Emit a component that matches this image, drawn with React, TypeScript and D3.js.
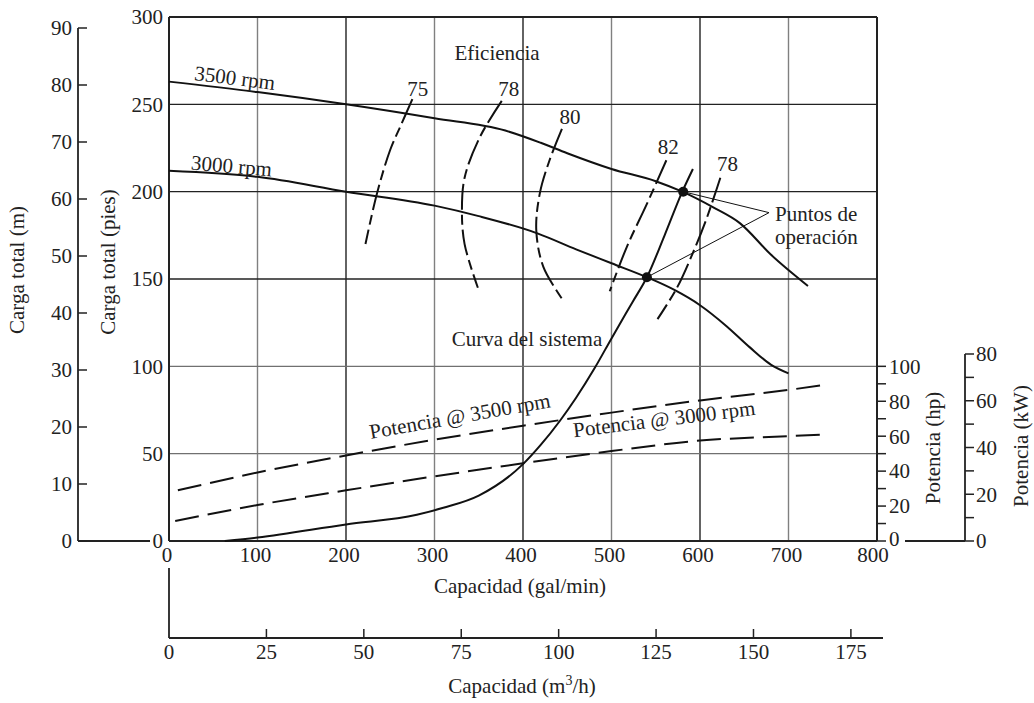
import React from "react";
import * as d3 from "d3";

// ---------- data (gal/min, ft / hp) ----------
const ftTicks = [0, 50, 100, 150, 200, 250, 300];
const mTicks = [0, 10, 20, 30, 40, 50, 60, 70, 80, 90];
const gpmTicks = [0, 100, 200, 300, 400, 500, 600, 700, 800];
const m3hTicks = [0, 25, 50, 75, 100, 125, 150, 175];
const hpTicks = [0, 10, 20, 30, 40, 50, 60, 70, 80, 90, 100];
const kwTicks = [0, 10, 20, 30, 40, 50, 60, 70, 80];

const pump3500: [number, number][] = [
  [0, 263], [100, 257], [200, 250], [300, 242], [380, 235], [420, 228],
  [450, 222], [500, 213], [550, 206], [580, 200], [615, 191], [645, 182],
  [680, 164], [722, 146],
];
const pump3000: [number, number][] = [
  [0, 212], [100, 208.5], [200, 200], [300, 192], [350, 186], [417, 176],
  [460, 167], [500, 159], [540, 151], [570, 144], [600, 135], [630, 123],
  [656, 111], [680, 101], [700, 96],
];
const systemCurve: [number, number][] = [
  [63, 0], [100, 2], [200, 9.5], [280, 15], [310, 19], [350, 26], [400, 44],
  [420, 55], [442, 69], [460, 82], [481, 99], [500, 116], [524, 137],
  [540, 151], [560, 175], [580, 200], [592, 213],
];
const power3500: [number, number][] = [
  [10, 29], [100, 39.2], [200, 49], [300, 58], [400, 66], [500, 73.5],
  [600, 80.5], [700, 86.5], [743, 89.5],
];
const power3000: [number, number][] = [
  [7, 11.5], [100, 20.6], [200, 29], [300, 37], [400, 44.5], [500, 51.5],
  [600, 57.5], [700, 60], [742, 61],
];
const eff75: [number, number][] = [[275, 253], [262, 238], [250, 224], [235, 199], [222, 170]];
const eff78a: [number, number][] = [[376, 252], [351, 231], [334, 208], [331, 189], [334, 170], [349, 145]];
const eff80: [number, number][] = [[444, 236], [430, 218], [419, 199], [415, 178], [423, 157], [445, 138]];
const eff82: [number, number][] = [[562, 218], [540, 193], [517, 168], [498, 143]];
const eff78b: [number, number][] = [[623, 208], [607, 184], [592, 165], [574, 145], [552, 127]];
const effCurves = [eff75, eff78a, eff80, eff82, eff78b];
const effLabels = ["75", "78", "80", "82", "78"];
const effLabelPos: [number, number][] = [[281, 259], [384, 259], [453, 243], [564, 226], [631, 216]];
const operatingPoints: [number, number][] = [[581, 200], [540, 151]];
const leaderTarget: [number, number] = [678, 188];

const FONT = "'Liberation Serif', 'Times New Roman', serif";

export default function App() {
  const W = 1034, H = 703;
  const x = d3.scaleLinear().domain([0, 800]).range([169, 877]);
  const y = d3.scaleLinear().domain([0, 300]).range([541, 17]);
  const yM = d3.scaleLinear().domain([0, 90]).range([541, 28]);
  const yHp = d3.scaleLinear().domain([0, 100]).range([y(0), y(100)]);
  const yKw = d3.scaleLinear().domain([0, 80]).range([541, 354]);
  const xM3 = d3.scaleLinear().domain([0, 175]).range([x(0), x(175 * 4.4029)]);

  const smooth = d3.line<[number, number]>().x(d => x(d[0])).y(d => y(d[1])).curve(d3.curveMonotoneX);
  const smoothHp = d3.line<[number, number]>().x(d => x(d[0])).y(d => yHp(d[1])).curve(d3.curveMonotoneX);
  const effLine = d3.line<[number, number]>().x(d => x(d[0])).y(d => y(d[1])).curve(d3.curveCatmullRom);

  const text = { fontFamily: FONT, fontSize: 21, fill: "#222" } as React.CSSProperties;
  const mAxisX = 78;
  const hpAxisX = x(800);
  const kwAxisX = 965;
  const m3AxisY = 638;

  return (
    <svg width={W} height={H} style={{ position: "absolute", left: 0, top: 0, background: "#fff" }}>
      <rect width={W} height={H} fill="#fff" />
      {/* grid */}
      {gpmTicks.slice(1, -1).map(v => (
        <line key={"gx" + v} x1={x(v)} x2={x(v)} y1={y(300)} y2={y(0)}
          stroke={v % 200 === 0 ? "#222" : "#808080"} strokeWidth={1.4} />
      ))}
      {ftTicks.slice(1, -1).map(v => (
        <line key={"gy" + v} x1={x(0)} x2={x(800)} y1={y(v)} y2={y(v)}
          stroke={v >= 150 ? "#222" : "#707070"} strokeWidth={1.4} />
      ))}
      {/* frame */}
      <line x1={x(0)} x2={x(800)} y1={y(300)} y2={y(300)} stroke="#222" strokeWidth={2.2} />
      <line x1={x(0)} x2={x(800)} y1={y(0)} y2={y(0)} stroke="#222" strokeWidth={2.2} />
      <line x1={x(0)} x2={x(0)} y1={y(300)} y2={y(0)} stroke="#222" strokeWidth={2} />
      <line x1={x(800)} x2={x(800)} y1={y(300)} y2={y(0)} stroke="#222" strokeWidth={2} />

      {/* ft labels */}
      {ftTicks.map(v => (
        <text key={"ft" + v} x={163} y={y(v)} dy="0.35em" textAnchor="end" style={text}>{v}</text>
      ))}
      {/* m axis */}
      <line x1={mAxisX} x2={mAxisX} y1={yM(90)} y2={yM(0)} stroke="#222" strokeWidth={1.8} />
      <line x1={mAxisX} x2={150} y1={yM(0)} y2={yM(0)} stroke="#222" strokeWidth={1.8} />
      {mTicks.map(v => (
        <g key={"m" + v}>
          <line x1={mAxisX} x2={mAxisX + 9} y1={yM(v)} y2={yM(v)} stroke="#222" strokeWidth={1.5} />
          <text x={72} y={yM(v)} dy="0.35em" textAnchor="end" style={text}>{v}</text>
        </g>
      ))}
      <text transform={`translate(24,270) rotate(-90)`} textAnchor="middle" style={text}>Carga total (m)</text>
      <text transform={`translate(115,262) rotate(-90)`} textAnchor="middle" style={text}>Carga total (pies)</text>

      {/* x gpm labels */}
      {gpmTicks.map(v => (
        <text key={"gl" + v} x={x(v) - (v === 800 ? 4 : 2)} y={562} textAnchor="middle" style={text}>{v}</text>
      ))}
      <text x={520} y={593} textAnchor="middle" style={text}>Capacidad (gal/min)</text>

      {/* m3/h axis */}
      <line x1={x(0)} x2={x(0)} y1={568} y2={m3AxisY} stroke="#222" strokeWidth={1.8} />
      <line x1={x(0)} x2={883} y1={m3AxisY} y2={m3AxisY} stroke="#222" strokeWidth={1.8} />
      {m3hTicks.map(v => (
        <g key={"m3" + v}>
          {v > 0 && <line x1={xM3(v)} x2={xM3(v)} y1={m3AxisY} y2={m3AxisY - 9} stroke="#222" strokeWidth={1.5} />}
          <text x={xM3(v)} y={659} textAnchor="middle" style={text}>{v}</text>
        </g>
      ))}
      <text x={522} y={693} textAnchor="middle" style={text}>
        Capacidad (m<tspan dy={-8} fontSize={14}>3</tspan><tspan dy={8}>/h)</tspan>
      </text>

      {/* hp axis */}
      {hpTicks.map(v => (
        <g key={"hp" + v}>
          <line x1={hpAxisX} x2={hpAxisX + 9} y1={yHp(v)} y2={yHp(v)} stroke="#222" strokeWidth={1.5} />
          {v % 20 === 0 && <text x={889} y={yHp(v)} dy={v === 0 ? "0.25em" : "0.35em"} style={text}>{v}</text>}
        </g>
      ))}
      <text transform={`translate(940,448) rotate(-90)`} textAnchor="middle" style={text}>Potencia (hp)</text>
      {/* kW axis */}
      <line x1={905} x2={kwAxisX} y1={yKw(0)} y2={yKw(0)} stroke="#222" strokeWidth={1.8} />
      <line x1={kwAxisX} x2={kwAxisX} y1={yKw(80)} y2={yKw(0)} stroke="#222" strokeWidth={1.8} />
      {kwTicks.map(v => (
        <g key={"kw" + v}>
          <line x1={kwAxisX} x2={kwAxisX + 9} y1={yKw(v)} y2={yKw(v)} stroke="#222" strokeWidth={1.5} />
          {v % 20 === 0 && <text x={976} y={yKw(v)} dy="0.35em" style={text}>{v}</text>}
        </g>
      ))}
      <text transform={`translate(1028,446) rotate(-90)`} textAnchor="middle" style={text}>Potencia (kW)</text>

      {/* pump curves */}
      <path d={smooth(pump3500) || ""} fill="none" stroke="#111" strokeWidth={2} />
      <path d={smooth(pump3000) || ""} fill="none" stroke="#111" strokeWidth={2} />
      <path d={smooth(systemCurve) || ""} fill="none" stroke="#111" strokeWidth={2} />
      <path d={smoothHp(power3500) || ""} fill="none" stroke="#111" strokeWidth={2} strokeDasharray="24,9" />
      <path d={smoothHp(power3000) || ""} fill="none" stroke="#111" strokeWidth={2} strokeDasharray="24,9" />
      {effCurves.map((c, i) => (
        <path key={"eff" + i} d={effLine(c) || ""} fill="none" stroke="#111" strokeWidth={2}
          strokeDasharray="26,5,10,5" />
      ))}
      {effLabels.map((l, i) => (
        <text key={"el" + i} x={x(effLabelPos[i][0])} y={y(effLabelPos[i][1])} dy="0.35em"
          textAnchor="middle" style={text}>{l}</text>
      ))}
      <text x={497} y={60} textAnchor="middle" style={text}>Eficiencia</text>

      {/* operating points & leaders */}
      {operatingPoints.map((p, i) => (
        <g key={"op" + i}>
          <line x1={x(p[0])} y1={y(p[1])} x2={x(leaderTarget[0])} y2={y(leaderTarget[1])} stroke="#111" strokeWidth={1} />
          <circle cx={x(p[0])} cy={y(p[1])} r={5} fill="#111" />
        </g>
      ))}
      <text x={775} y={221} style={text}>Puntos de</text>
      <text x={775} y={244} style={text}>operación</text>

      {/* curve labels */}
      <text transform={`translate(234,85) rotate(7)`} textAnchor="middle" style={text}>3500 rpm</text>
      <text transform={`translate(231,173) rotate(5)`} textAnchor="middle" style={text}>3000 rpm</text>
      <text x={527} y={346} textAnchor="middle" style={text}>Curva del sistema</text>
      <text transform={`translate(461,423) rotate(-10)`} textAnchor="middle" style={text}>Potencia @ 3500 rpm</text>
      <text transform={`translate(665,426) rotate(-7)`} textAnchor="middle" style={text}>Potencia @ 3000 rpm</text>
    </svg>
  );
}
